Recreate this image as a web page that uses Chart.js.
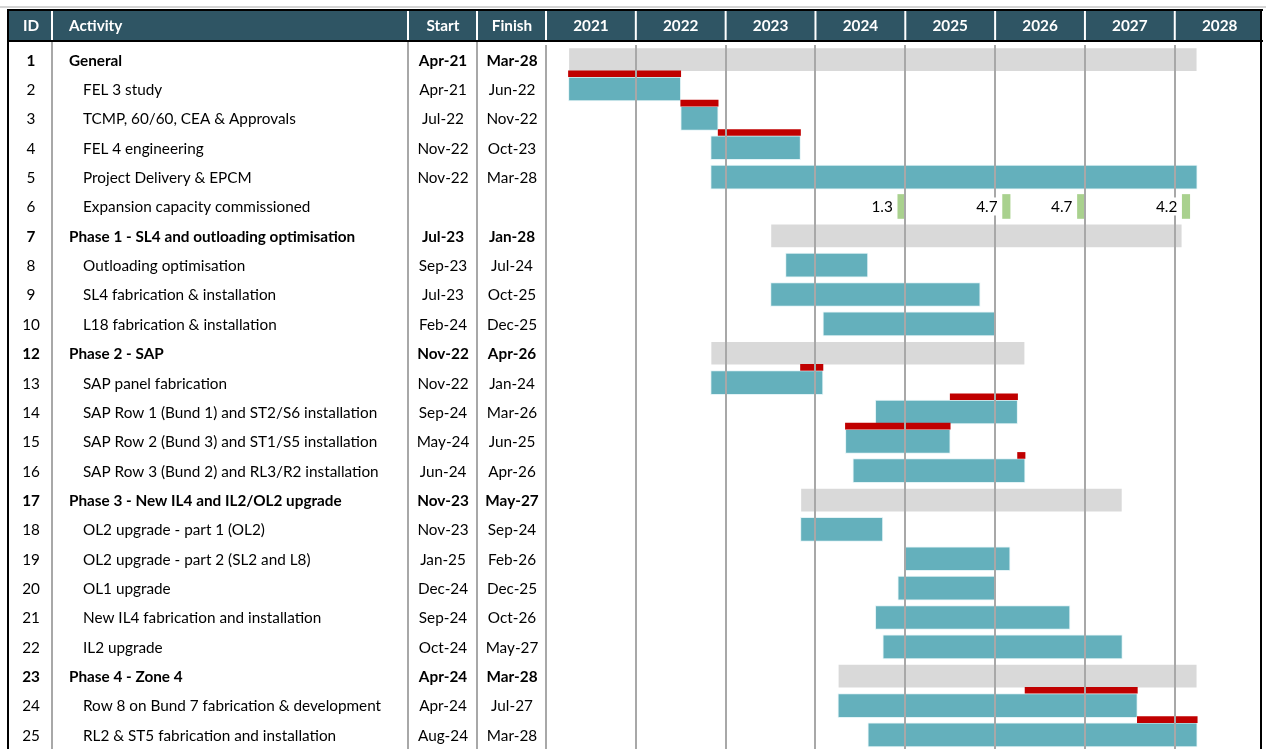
<!DOCTYPE html>
<html lang="en">
<head>
  <meta charset="UTF-8">
  <title>Project schedule</title>
  <script src="https://cdn.jsdelivr.net/npm/chart.js"></script>
  <style>
    html, body { margin: 0; padding: 0; background: #fff; }
    canvas { display: block; }
  </style>
</head>
<body>
  <canvas id="gantt" width="1266" height="749"></canvas>

  <script>
    // table rows
    const ids = [1, 2, 3, 4, 5, 6, 7, 8, 9, 10, 12, 13, 14, 15, 16, 17, 18, 19, 20, 21, 22, 23, 24, 25];
    const activities = [
      'General',
      'FEL 3 study',
      'TCMP, 60/60, CEA & Approvals',
      'FEL 4 engineering',
      'Project Delivery & EPCM',
      'Expansion capacity commissioned',
      'Phase 1 - SL4 and outloading optimisation',
      'Outloading optimisation',
      'SL4 fabrication & installation',
      'L18 fabrication & installation',
      'Phase 2 - SAP',
      'SAP panel fabrication',
      'SAP Row 1 (Bund 1) and ST2/S6 installation',
      'SAP Row 2 (Bund 3) and ST1/S5 installation',
      'SAP Row 3 (Bund 2) and RL3/R2 installation',
      'Phase 3 - New IL4 and IL2/OL2 upgrade',
      'OL2 upgrade - part 1 (OL2)',
      'OL2 upgrade - part 2 (SL2 and L8)',
      'OL1 upgrade',
      'New IL4 fabrication and installation',
      'IL2 upgrade',
      'Phase 4 - Zone 4',
      'Row 8 on Bund 7 fabrication & development',
      'RL2 & ST5 fabrication and installation'
    ];
    const starts = ['Apr-21', 'Apr-21', 'Jul-22', 'Nov-22', 'Nov-22', '', 'Jul-23', 'Sep-23', 'Jul-23', 'Feb-24',
      'Nov-22', 'Nov-22', 'Sep-24', 'May-24', 'Jun-24', 'Nov-23', 'Nov-23', 'Jan-25', 'Dec-24', 'Sep-24',
      'Oct-24', 'Apr-24', 'Apr-24', 'Aug-24'];
    const finishes = ['Mar-28', 'Jun-22', 'Nov-22', 'Oct-23', 'Mar-28', '', 'Jan-28', 'Jul-24', 'Oct-25', 'Dec-25',
      'Apr-26', 'Jan-24', 'Mar-26', 'Jun-25', 'Apr-26', 'May-27', 'Sep-24', 'Feb-26', 'Dec-25', 'Oct-26',
      'May-27', 'Mar-28', 'Jul-27', 'Mar-28'];
    const summaryIds = [1, 7, 12, 17, 23];

    // red strips above some tasks
    const baselineIds = [2, 3, 4, 13, 14, 15, 16, 24, 25];
    const baselineStarts = ['Apr-21', 'Jul-22', 'Dec-22', 'Nov-23', 'Jul-25', 'May-24', 'Apr-26', 'May-26', 'Aug-27'];
    const baselineFinishes = ['Jun-22', 'Nov-22', 'Oct-23', 'Jan-24', 'Mar-26', 'Jun-25', 'Apr-26', 'Jul-27', 'Mar-28'];

    // capacity milestones (row 6)
    const milestoneId = 6;
    const milestoneMonths = ['Dec-24', 'Feb-26', 'Dec-26', 'Feb-28'];
    const milestoneValues = ['1.3', '4.7', '4.7', '4.2'];

    const years = [2021, 2022, 2023, 2024, 2025, 2026, 2027, 2028];

    const FONT = 'Lato';
    const FS = '15.3px ';
    const HEADER_BG = '#2F5564';
    const GRID = '#A8A8A8';

    const monthNames = ['Jan', 'Feb', 'Mar', 'Apr', 'May', 'Jun', 'Jul', 'Aug', 'Sep', 'Oct', 'Nov', 'Dec'];
    function monthStart(s) {
      const [m, y] = s.split('-');
      return 2000 + parseInt(y, 10) + monthNames.indexOf(m) / 12;
    }
    function monthEnd(s) {
      return monthStart(s) + 1 / 12;
    }
    const rowOf = id => ids.indexOf(id);

    const summaryBars = [], taskBars = [];
    ids.forEach((id, i) => {
      if (!starts[i]) return;
      const bar = { x: [monthStart(starts[i]), monthEnd(finishes[i])], y: i };
      if (summaryIds.includes(id)) summaryBars.push(bar); else taskBars.push(bar);
    });
    const baselineBars = baselineIds.map((id, k) => ({
      x: [monthStart(baselineStarts[k]), monthEnd(baselineFinishes[k])],
      y: rowOf(id) - 0.52
    }));
    const milestoneBars = milestoneMonths.map(m => ({
      x: [monthStart(m), monthEnd(m)],
      y: rowOf(milestoneId)
    }));

    // columns of the table on the left
    const colLines = [52, 408, 477];
    const xId = 31, xAct = 69, xActIndent = 83, xStart = 443, xFinish = 512;
    const headTop = 10, headBottom = 41;

    const tablePlugin = {
      id: 'table',
      beforeDraw(chart) {
        const ctx = chart.ctx;
        const yS = chart.scales.y, xS = chart.scales.x;
        const area = chart.chartArea;
        ctx.save();
        // faint page line
        ctx.fillStyle = '#D4D4D4';
        ctx.fillRect(0, 6, chart.width, 2);
        // header band
        ctx.fillStyle = HEADER_BG;
        ctx.fillRect(9, headTop, area.right - 9, headBottom - headTop);
        ctx.strokeStyle = '#FFFFFF';
        ctx.lineWidth = 2;
        const headDiv = colLines.concat([area.left], years.slice(1).map(y => xS.getPixelForValue(y)));
        headDiv.forEach(x => {
          ctx.beginPath(); ctx.moveTo(x, headTop); ctx.lineTo(x, headBottom); ctx.stroke();
        });
        ctx.fillStyle = '#FFFFFF';
        ctx.font = 'bold ' + FS + FONT;
        ctx.textBaseline = 'middle';
        const hy = (headTop + headBottom) / 2 + 1;
        ctx.textAlign = 'center';
        ctx.fillText('ID', xId, hy);
        ctx.fillText('Start', xStart, hy);
        ctx.fillText('Finish', xFinish, hy);
        years.forEach(y => ctx.fillText(String(y), xS.getPixelForValue(y + 0.5), hy));
        ctx.textAlign = 'left';
        ctx.fillText('Activity', xAct, hy);

        // body dividers
        ctx.strokeStyle = GRID;
        ctx.lineWidth = 2;
        colLines.forEach(x => {
          ctx.beginPath(); ctx.moveTo(x, headBottom); ctx.lineTo(x, chart.height); ctx.stroke();
        });

        // body text
        ctx.fillStyle = '#000000';
        ids.forEach((id, i) => {
          const y = yS.getPixelForValue(i) + 1;
          const bold = summaryIds.includes(id);
          ctx.font = (bold ? 'bold ' : '') + FS + FONT;
          ctx.textAlign = 'center';
          ctx.fillText(String(id), xId, y);
          ctx.fillText(starts[i], xStart, y);
          ctx.fillText(finishes[i], xFinish, y);
          ctx.textAlign = 'left';
          ctx.fillText(activities[i], bold ? xAct : xActIndent, y);
        });
        ctx.restore();
      },
      afterDraw(chart) {
        const ctx = chart.ctx;
        const area = chart.chartArea;
        ctx.save();
        // milestone labels
        ctx.font = FS + FONT;
        ctx.textAlign = 'right';
        ctx.textBaseline = 'middle';
        const meta = chart.getDatasetMeta(3);
        meta.data.forEach((bar, k) => {
          const left = Math.min(bar.x, bar.base);
          const w = ctx.measureText(milestoneValues[k]).width;
          ctx.fillStyle = '#FFFFFF';
          ctx.fillRect(left - 5 - w - 1, bar.y - 9, w + 2, 18);
          ctx.fillStyle = '#000000';
          ctx.fillText(milestoneValues[k], left - 5, bar.y + 1);
        });
        // black frame
        ctx.fillStyle = '#000000';
        ctx.fillRect(7, headTop - 1, area.right - 5, 2);
        ctx.fillRect(7, headBottom - 1, area.right - 5, 2);
        ctx.fillRect(7, headTop - 1, 2, chart.height);
        ctx.fillRect(area.right - 1, headTop - 1, 2, chart.height);
        ctx.restore();
      }
    };

    new Chart(document.getElementById('gantt'), {
      type: 'bar',
      data: {
        datasets: [
          { label: 'Baseline', data: baselineBars, backgroundColor: '#C00000', barThickness: 6, grouped: false },
          { label: 'Summary', data: summaryBars, backgroundColor: '#D9D9D9', barThickness: 24, grouped: false,
            borderColor: 'rgba(255,255,255,0.6)', borderWidth: 1, borderSkipped: false },
          { label: 'Task', data: taskBars, backgroundColor: '#64B0BC', barThickness: 24, grouped: false,
            borderColor: 'rgba(220,240,244,0.8)', borderWidth: 1, borderSkipped: false },
          { label: 'Capacity', data: milestoneBars, backgroundColor: '#A9D18E', barThickness: 24, grouped: false }
        ]
      },
      options: {
        indexAxis: 'y',
        responsive: false,
        animation: false,
        layout: { padding: { left: 546, right: 5, top: 45, bottom: 0 } },
        plugins: { legend: { display: false }, tooltip: { enabled: false } },
        scales: {
          x: {
            type: 'linear',
            position: 'top',
            min: 2021,
            max: 2028.96,
            ticks: { display: false, stepSize: 1, includeBounds: false },
            grid: { color: GRID, lineWidth: 2, drawTicks: false, z: 1 },
            border: { display: false },
            afterFit(scale) { scale.height = 0; }
          },
          y: {
            type: 'linear',
            display: false,
            reverse: true,
            offset: false,
            grace: 0,
            min: -0.5,
            max: 23.48
          }
        }
      },
      plugins: [tablePlugin]
    });
  </script>
</body>
</html>
